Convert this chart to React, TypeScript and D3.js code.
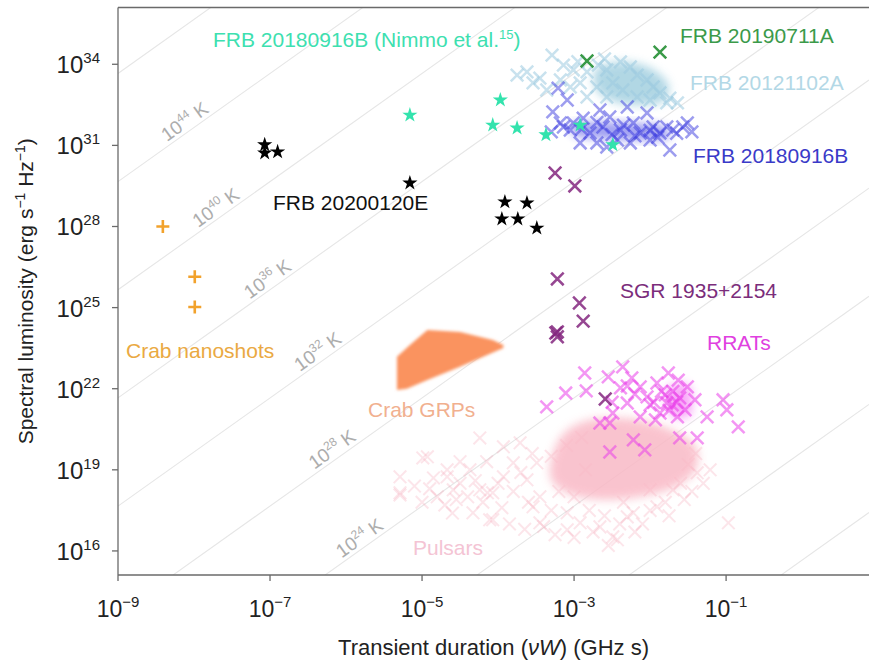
import React from 'react';
import * as d3 from 'd3';

const W = 869, H = 664;
const PL = 118, PT = 7.5, PR = 869, PB = 575;
const FONT = "'Liberation Sans', Arial, Helvetica, sans-serif";

// axis domains (log10)
const xLogDomain = [-9, 0.88];
const yLogDomain = [15.11, 36.1];
const xTickExps = [-9, -7, -5, -3, -1];
const yTickExps = [16, 19, 22, 25, 28, 31, 34];

// brightness temperature lines: log10 L = log10 T + 2 log10(nuW) + TB_OFFSET
const TB_OFFSET = 3.66;
const tempLineExps = [8, 12, 16, 20, 24, 28, 32, 36, 40, 44, 48];
const tempLabelExps = [24, 28, 32, 36, 40, 44];
const tempLabelAt = [-5.82, -6.18, -6.37, -7.03, -7.71, -8.12];

// data: [log10 duration (GHz s), log10 spectral luminosity (erg/s/Hz)]
const crabNanoshots = [[-8.41, 28.0], [-7.99, 26.14], [-7.99, 25.02]];

const frb20200120E = [
  [-7.07, 31.02], [-7.07, 30.72], [-6.9, 30.76], [-5.16, 29.61],
  [-3.91, 28.91], [-3.62, 28.87], [-3.95, 28.28], [-3.74, 28.28], [-3.49, 27.94],
];

const frb20180916BNimmo = [
  [-5.16, 32.12], [-3.97, 32.68], [-4.07, 31.75], [-3.75, 31.64],
  [-3.37, 31.39], [-2.92, 31.75], [-2.49, 31.02],
];

const frb20190711A = [[-2.83, 34.12], [-1.87, 34.45]];

const frb20121102A = [
  [-3.62, 33.72], [-3.45, 33.49], [-3.29, 34.34], [-3.14, 33.97], [-3.01, 33.79],
  [-2.83, 33.72], [-2.68, 33.97], [-2.57, 33.79], [-2.39, 34.09], [-2.26, 33.9],
  [-2.17, 33.6], [-2.04, 33.42], [-1.96, 33.16], [-1.87, 32.94], [-1.74, 32.75],
  [-1.64, 32.57], [-2.49, 33.31], [-2.36, 33.05], [-2.57, 32.79], [-2.7, 33.16],
  [-2.92, 33.31], [-3.05, 33.16], [-3.18, 33.42], [-3.54, 33.31], [-3.36, 33.05],
  [-2.83, 32.79], [-2.17, 32.79], [-2.0, 32.68], [-1.78, 32.57], [-3.75, 33.6],
  [-2.95, 34.1], [-2.6, 34.2],
];
const frb20121102ACore = [
  [-2.72, 33.79], [-2.39, 34.09], [-2.0, 33.86], [-1.76, 33.23],
  [-1.8, 32.68], [-2.13, 32.49], [-2.53, 32.68], [-2.72, 33.12],
];

const frb20180916B = [
  [-3.21, 33.12], [-3.28, 32.24], [-3.09, 32.68], [-3.14, 31.68], [-3.01, 31.83],
  [-2.88, 32.01], [-2.79, 31.46], [-2.66, 32.31], [-2.62, 31.68], [-2.53, 32.05],
  [-2.43, 31.2], [-2.39, 31.57], [-2.3, 32.42], [-2.22, 31.83], [-2.13, 31.46],
  [-2.04, 32.2], [-1.96, 31.68], [-1.87, 31.46], [-1.78, 31.68], [-1.7, 31.57],
  [-1.57, 31.68], [-1.51, 31.83], [-1.74, 30.83], [-2.7, 31.09], [-2.92, 31.09],
  [-3.05, 31.57], [-2.57, 30.94], [-2.26, 31.09], [-2.0, 31.2], [-3.18, 31.83],
  [-2.9, 31.6], [-2.5, 31.4], [-2.2, 31.35], [-1.9, 31.3], [-2.7, 31.85],
  [-2.35, 31.75], [-2.0, 31.55], [-1.65, 31.45], [-3.3, 31.5], [-1.45, 31.5],
];
const frb20180916BCore = [
  [-3.05, 31.75], [-2.66, 31.85], [-2.13, 31.8], [-1.8, 31.66],
  [-1.74, 31.3], [-2.13, 31.2], [-2.66, 31.25], [-3.0, 31.4],
];

const sgr1935 = [
  [-3.25, 29.98], [-2.99, 29.5], [-3.22, 26.06], [-2.93, 25.17], [-2.88, 24.5],
  [-3.22, 24.1], [-3.22, 23.92], [-3.24, 24.06], [-2.59, 21.62],
];

const rrats = [
  [-3.36, 21.33], [-3.11, 21.84], [-2.86, 22.58], [-2.84, 21.92], [-2.66, 20.73],
  [-2.55, 22.44], [-2.53, 19.66], [-2.53, 20.73], [-2.49, 21.1], [-2.39, 22.03],
  [-2.36, 22.81], [-2.3, 21.47], [-2.24, 22.4], [-2.22, 20.11], [-2.13, 22.07],
  [-2.13, 20.96], [-2.07, 19.74], [-2.04, 21.7], [-1.91, 22.21], [-1.87, 21.1],
  [-1.78, 21.47], [-1.76, 22.58], [-1.64, 20.96], [-1.63, 22.32], [-1.61, 20.18],
  [-1.51, 22.07], [-1.41, 21.59], [-1.38, 20.18], [-1.25, 20.96], [-1.04, 21.59],
  [-0.99, 21.22], [-0.84, 20.59], [-1.8, 21.77], [-1.71, 21.4], [-1.61, 21.66],
  [-1.54, 21.22], [-2.0, 21.4], [-1.93, 20.85], [-1.7, 21.9], [-1.65, 21.5],
  [-1.75, 21.2], [-1.85, 21.9], [-1.95, 21.5], [-2.2, 21.8], [-2.3, 22.1], [-2.5, 21.5],
];
const rratCore = [[-1.78, 22.0], [-1.5, 22.15], [-1.48, 21.0], [-1.72, 21.0]];

const pulsars = [
  [-4.24, 20.18], [-4.99, 19.44], [-5.29, 18.74], [-5.29, 18.07], [-4.67, 18.74],
  [-4.37, 19.0], [-4.59, 18.26], [-4.24, 18.26], [-4.07, 18.15], [-3.93, 18.74],
  [-3.8, 19.26], [-4.11, 17.15], [-3.62, 18.63], [-3.49, 19.26], [-3.45, 18.0],
  [-3.09, 17.41], [-2.92, 17.04], [-2.49, 16.52], [-2.3, 17.26], [-1.91, 17.63],
  [-1.7, 18.26], [-1.38, 18.89], [-1.21, 19.0], [-0.97, 17.04], [-3.71, 20.0],
  [-3.93, 19.85], [-4.93, 19.48], [-5.29, 18.15], [-4.67, 19.0], [-4.14, 18.15],
  [-4.33, 17.41], [-4.07, 17.15], [-3.54, 17.63], [-3.45, 17.04], [-3.09, 16.78],
  [-2.66, 16.89], [-2.43, 16.41], [-2.22, 17.41], [-2.0, 18.26], [-4.5, 18.5],
  [-4.4, 18.0], [-4.0, 18.5], [-3.8, 18.2], [-3.6, 17.8], [-3.3, 17.5], [-3.2, 18.2],
  [-3.0, 18.0], [-2.8, 17.5], [-2.6, 17.3], [-2.4, 17.0], [-2.1, 17.0], [-1.8, 17.8],
  [-1.6, 18.5], [-1.5, 19.2], [-1.4, 19.6], [-4.8, 18.0], [-4.5, 19.3], [-3.3, 19.5],
  [-3.1, 19.9], [-2.9, 20.2], [-1.3, 18.5], [-5.1, 18.4], [-4.85, 18.7], [-4.2, 17.8],
  [-4.9, 18.3], [-4.7, 17.7], [-4.55, 17.9], [-4.3, 18.6], [-4.15, 19.3], [-3.95, 17.6],
  [-3.85, 17.0], [-3.7, 18.9], [-3.55, 19.6], [-3.4, 16.9], [-3.25, 16.6], [-3.0, 16.5],
  [-2.75, 16.7], [-2.55, 16.2], [-2.2, 16.7], [-2.0, 17.5], [-1.75, 17.3], [-1.55, 17.9],
  [-1.45, 18.2], [-4.6, 17.4], [-5.0, 17.8], [-3.65, 16.8], [-2.85, 19.0], [-2.35, 17.8],
];
const pulsarCore = [
  [-3.3, 19.37], [-3.15, 20.3], [-2.86, 20.8], [-2.26, 20.9], [-1.74, 20.5],
  [-1.4, 19.85], [-1.4, 19.0], [-1.65, 18.4], [-2.13, 18.0], [-2.66, 17.9],
  [-3.1, 18.15], [-3.3, 18.63],
];

const crabGRPs = [
  [-5.33, 21.95], [-5.33, 23.18], [-5.16, 23.62], [-4.93, 24.17], [-4.5, 24.1],
  [-4.07, 23.8], [-3.93, 23.62], [-3.93, 23.51], [-4.5, 22.81], [-4.93, 22.32], [-5.2, 22.0],
];

const x = d3.scaleLog().domain(xLogDomain.map((v) => 10 ** v)).range([PL, PR]);
const y = d3.scaleLog().domain(yLogDomain.map((v) => 10 ** v)).range([PB, PT]);
const px = (d: number[]) => x(10 ** d[0]);
const py = (d: number[]) => y(10 ** d[1]);

const crossPath = (a: number) => `M${-a},${-a}L${a},${a}M${-a},${a}L${a},${-a}`;
const plusPath = (a: number) => `M${-a},0H${a}M0,${-a}V${a}`;
const starPath = d3.symbol(d3.symbolStar, 72)() as string;
const polyLine = d3.line<number[]>().x(px).y(py).curve(d3.curveCatmullRomClosed.alpha(0.5));

const angle = (Math.atan2(2 * (PB - PT) / (yLogDomain[1] - yLogDomain[0]), (PR - PL) / (xLogDomain[1] - xLogDomain[0])) * 180) / Math.PI;

function Crosses({ data, color, opacity, size = 6.3, sw = 2.5 }: any) {
  return (
    <g stroke={color} strokeWidth={sw} strokeOpacity={opacity} fill="none">
      {data.map((d: number[], i: number) => (
        <path key={i} d={crossPath(size)} transform={`translate(${px(d)},${py(d)})`} />
      ))}
    </g>
  );
}

function Stars({ data, color }: any) {
  return (
    <g fill={color}>
      {data.map((d: number[], i: number) => (
        <path key={i} d={starPath} transform={`translate(${px(d)},${py(d)})`} />
      ))}
    </g>
  );
}

function Pow({ exp, x0, y0, anchor, size, supSize, color }: any) {
  return (
    <text x={x0} y={y0} textAnchor={anchor} fontSize={size} fill={color} fontFamily={FONT}>
      10
      <tspan dy={-size * 0.42} fontSize={supSize}>{exp < 0 ? `\u2212${-exp}` : `${exp}`}</tspan>
    </text>
  );
}

export default function App() {
  const tLines = tempLineExps.map((T) => {
    const a = [xLogDomain[0], T + 2 * xLogDomain[0] + TB_OFFSET];
    const b = [xLogDomain[1], T + 2 * xLogDomain[1] + TB_OFFSET];
    return { T, a, b };
  });
  return (
    <svg width={W} height={H} style={{ position: 'absolute', left: 0, top: 0, background: '#fff' }}>
      <defs>
        <clipPath id="plot">
          <rect x={PL} y={PT} width={PR - PL} height={PB - PT} />
        </clipPath>
        <filter id="blur" x="-30%" y="-30%" width="160%" height="160%">
          <feGaussianBlur stdDeviation="5" />
        </filter>
        <filter id="blur2" x="-20%" y="-20%" width="140%" height="140%">
          <feGaussianBlur stdDeviation="1.5" />
        </filter>
      </defs>
      <g clipPath="url(#plot)">
        {tLines.map((l) => (
          <line key={l.T} x1={px(l.a)} y1={py(l.a)} x2={px(l.b)} y2={py(l.b)} stroke="#e6e6e6" strokeWidth={1.1} />
        ))}
        {/* pulsars */}
        <Crosses data={pulsars} color="#f6aabb" opacity={0.3} sw={2} />
        <path d={polyLine(pulsarCore) as string} fill="#f9b9c6" filter="url(#blur)" opacity={0.85} />
        {/* Crab GRPs */}
        <path d={d3.line<number[]>().x(px).y(py)(crabGRPs) + 'Z'} fill="#fa935e" filter="url(#blur2)" />
        {/* RRATs */}
        <path d={polyLine(rratCore) as string} fill="#f040f0" filter="url(#blur)" opacity={0.45} />
        <Crosses data={rrats} color="#ea3fea" opacity={0.55} />
        {/* FRB 20121102A */}
        <path d={polyLine(frb20121102ACore) as string} fill="#a9d3e2" filter="url(#blur)" opacity={0.9} />
        <Crosses data={frb20121102A} color="#9ccbe0" opacity={0.55} />
        {/* FRB 20180916B */}
        <path d={polyLine(frb20180916BCore) as string} fill="#2b2be0" filter="url(#blur)" opacity={0.45} />
        <Crosses data={frb20180916B} color="#3b3be0" opacity={0.5} />
        {/* SGR */}
        <Crosses data={sgr1935} color="#84277f" opacity={0.85} />
        {/* stars */}
        <Stars data={frb20180916BNimmo} color="#33e3ad" />
        <Stars data={frb20200120E} color="#000" />
        <Crosses data={frb20190711A} color="#3a9a48" opacity={1} />
        <g stroke="#f2a22c" strokeWidth={2.6} fill="none">
          {crabNanoshots.map((d, i) => (
            <path key={i} d={plusPath(6.5)} transform={`translate(${px(d)},${py(d)})`} />
          ))}
        </g>
      </g>

      {/* temperature labels */}
      {tempLabelExps.map((T, i) => {
        const lx = tempLabelAt[i];
        const d = [lx, T + 2 * lx + TB_OFFSET];
        return (
          <g key={T} transform={`translate(${px(d)},${py(d) - 12}) rotate(${-angle})`}>
            <text x={0} y={6} textAnchor="middle" fontSize={19} fill="#adadad" fontFamily={FONT}>
              10<tspan dy={-8} fontSize={12}>{T}</tspan><tspan dy={8}> K</tspan>
            </text>
          </g>
        );
      })}

      {/* frame */}
      <g stroke="#6a6a6a" strokeWidth={1.3} fill="none">
        <line x1={PL} y1={PT} x2={PR} y2={PT} />
        <line x1={PL} y1={PT} x2={PL} y2={PB} />
        <line x1={PL} y1={PB} x2={PR} y2={PB} />
        {xTickExps.map((e) => (
          <line key={e} x1={x(10 ** e)} x2={x(10 ** e)} y1={PB} y2={PB + 6} />
        ))}
        {yTickExps.map((e) => (
          <line key={e} x1={PL - 6} x2={PL} y1={y(10 ** e)} y2={y(10 ** e)} />
        ))}
      </g>
      {xTickExps.map((e) => (
        <Pow key={e} exp={e} x0={x(10 ** e)} y0={617} anchor="middle" size={23} supSize={15} color="#222" />
      ))}
      {yTickExps.map((e) => (
        <Pow key={e} exp={e} x0={100} y0={y(10 ** e) + 9} anchor="end" size={24} supSize={15} color="#222" />
      ))}

      {/* axis titles */}
      <text x={(PL + PR) / 2} y={655} textAnchor="middle" fontSize={22} fill="#222" fontFamily={FONT}>
        Transient duration (<tspan fontStyle="italic">ν</tspan><tspan fontStyle="italic">W</tspan>) (GHz s)
      </text>
      <text transform={`translate(33,${(PT + PB) / 2}) rotate(-90)`} textAnchor="middle" fontSize={21} fill="#222" fontFamily={FONT}>
        Spectral luminosity (erg s<tspan dy={-8} fontSize={14}>{'\u2212'}1</tspan><tspan dy={8}> Hz</tspan><tspan dy={-8} fontSize={14}>{'\u2212'}1</tspan><tspan dy={8}>)</tspan>
      </text>

      {/* labels */}
      <g fontFamily={FONT} fontSize={21}>
        <text x={213} y={47} fill="#3de0b0">FRB 20180916B (Nimmo et al.<tspan dy={-8} fontSize={13}>15</tspan><tspan dy={8}>)</tspan></text>
        <text x={680} y={43} fill="#3b9a4a">FRB 20190711A</text>
        <text x={690} y={90} fill="#b3d8e6">FRB 20121102A</text>
        <text x={693} y={163} fill="#3a3ac8">FRB 20180916B</text>
        <text x={273} y={210} fill="#111">FRB 20200120E</text>
        <text x={620} y={298} fill="#7b2d7b">SGR 1935+2154</text>
        <text x={707} y={350} fill="#e040e0">RRATs</text>
        <text x={126} y={358} fill="#eaa942">Crab nanoshots</text>
        <text x={368} y={417} fill="#f1b08f">Crab GRPs</text>
        <text x={413} y={555} fill="#f4c4d4">Pulsars</text>
      </g>
    </svg>
  );
}
